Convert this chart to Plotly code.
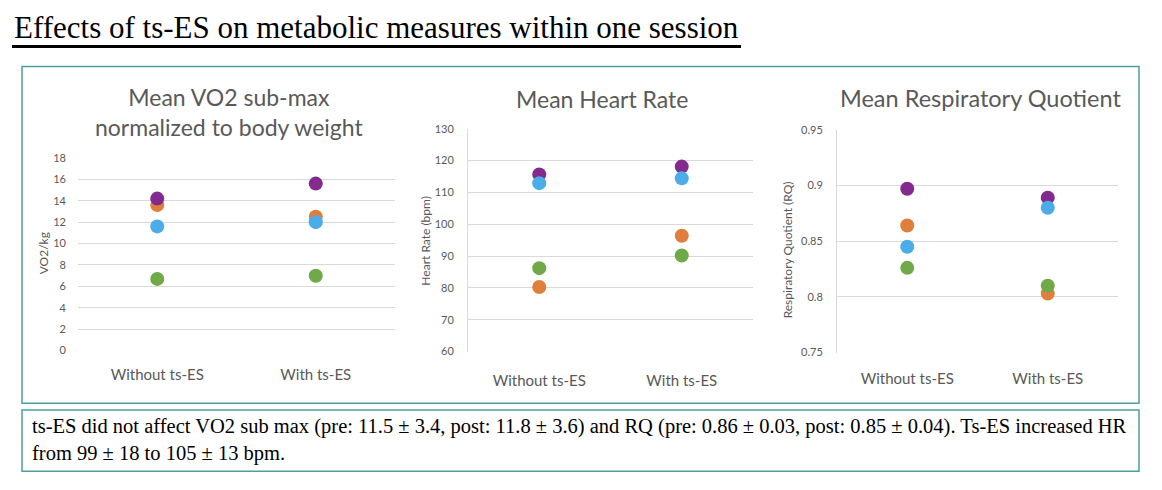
import plotly.graph_objects as go

W, H = 1162, 490

categories = ["Without ts-ES", "With ts-ES"]

# Mean VO2 sub-max normalized to body weight
vo2_orange = [13.6, 12.5]
vo2_green = [6.7, 7.0]
vo2_purple = [14.2, 15.6]
vo2_blue = [11.6, 12.0]

# Mean Heart Rate
hr_orange = [80.3, 96.4]
hr_green = [86.2, 90.2]
hr_purple = [115.6, 118.1]
hr_blue = [112.9, 114.4]

# Mean Respiratory Quotient
rq_orange = [0.864, 0.803]
rq_green = [0.826, 0.810]
rq_purple = [0.897, 0.889]
rq_blue = [0.845, 0.880]

vo2_ticks = [0, 2, 4, 6, 8, 10, 12, 14, 16, 18]
hr_ticks = [60, 70, 80, 90, 100, 110, 120, 130]
rq_ticks = [0.75, 0.8, 0.85, 0.9, 0.95]
rq_ticktext = ["0.75", "0.8", "0.85", "0.9", "0.95"]

colors = {"orange": "#E07F3C", "green": "#70A948", "purple": "#842A8E", "blue": "#4AADE9"}

GRAY = "#595959"
GRID = "#D9D9D9"
TEAL = "#4E9E9E"
FONT = "Lato"


def px(x):
    return x / W


def py(y):
    return 1 - y / H


fig = go.Figure()

panels = [
    ("x", "y", [vo2_orange, vo2_green, vo2_purple, vo2_blue]),
    ("x2", "y2", [hr_orange, hr_green, hr_purple, hr_blue]),
    ("x3", "y3", [rq_orange, rq_green, rq_purple, rq_blue]),
]
names = ["orange", "green", "purple", "blue"]
for xa, ya, series in panels:
    for nm, vals in zip(names, series):
        fig.add_trace(go.Scatter(
            x=categories, y=vals, xaxis=xa, yaxis=ya, mode="markers",
            marker=dict(size=14, color=colors[nm]), showlegend=False,
            hoverinfo="x+y"))

xcommon = dict(type="category", range=[-0.5, 1.5], showgrid=False, showline=False,
               zeroline=False, ticks="", tickfont=dict(family=FONT, size=15, color=GRAY),
               fixedrange=True)
ycommon = dict(showgrid=True, gridcolor=GRID, gridwidth=1, zeroline=False, ticks="",
               tickfont=dict(family=FONT, size=11, color=GRAY), ticklabelstandoff=11,
               fixedrange=True)

fig.update_layout(
    width=W, height=H, margin=dict(l=0, r=0, t=0, b=0),
    paper_bgcolor="white", plot_bgcolor="white",
    xaxis=dict(domain=[px(78), px(395)], anchor="y", ticklabelstandoff=13, **xcommon),
    yaxis=dict(domain=[py(353), py(155)], anchor="x", range=[0, 18], tickvals=vo2_ticks,
               showline=False, **ycommon),
    xaxis2=dict(domain=[px(468), px(753)], anchor="y2", ticklabelstandoff=18, **xcommon),
    yaxis2=dict(domain=[py(354), py(125)], anchor="x2", range=[60, 130], tickvals=hr_ticks,
                showline=True, linecolor=GRID, linewidth=1, **ycommon),
    xaxis3=dict(domain=[px(837), px(1118)], anchor="y3", ticklabelstandoff=15, **xcommon),
    yaxis3=dict(domain=[py(355), py(126)], anchor="x3", range=[0.75, 0.95], tickvals=rq_ticks,
                ticktext=rq_ticktext, showline=True, linecolor=GRID, linewidth=1, **ycommon),
)

annotations = []
# Main heading
annotations.append(dict(text="Effects of ts-ES on metabolic measures within one session",
                        x=px(12), y=py(34), xref="paper", yref="paper", xanchor="left",
                        yanchor="bottom", yshift=-7, showarrow=False,
                        font=dict(family="Liberation Serif", size=31, color="black")))
# Panel titles
annotations.append(dict(text="Mean VO2 sub-max<br>normalized to body weight", x=px(229), y=py(108),
                        xref="paper", yref="paper", xanchor="center", yanchor="middle",
                        showarrow=False, align="center",
                        font=dict(family=FONT, size=23, color=GRAY)))
annotations.append(dict(text="Mean Heart Rate", x=px(602), y=py(95), xref="paper", yref="paper",
                        xanchor="center", yanchor="middle",
                        showarrow=False, font=dict(family=FONT, size=23, color=GRAY)))
annotations.append(dict(text="Mean Respiratory Quotient", x=px(980), y=py(93), xref="paper",
                        yref="paper", xanchor="center", yanchor="middle",
                        showarrow=False, font=dict(family=FONT, size=23.5, color=GRAY)))
# Y axis labels
for txt, xx, yy in [("VO2/kg", 43, 253), ("Heart Rate (bpm)", 426, 240),
                    ("Respiratory Quotient (RQ)", 787, 250)]:
    annotations.append(dict(text=txt, x=px(xx), y=py(yy), xref="paper", yref="paper",
                            xanchor="center", yanchor="middle",
                            showarrow=False, textangle=-90,
                            font=dict(family=FONT, size=12, color=GRAY)))
# Summary text
annotations.append(dict(
    text="ts-ES did not affect VO2 sub max (pre: 11.5 ± 3.4, post: 11.8 ± 3.6) and RQ (pre: 0.86 ± 0.03, post: 0.85 ± 0.04). Ts-ES increased HR<br>from 99 ± 18 to 105 ± 13 bpm.",
    x=px(30), y=py(445), xref="paper", yref="paper", xanchor="left", yanchor="middle",
    align="left", showarrow=False,
    font=dict(family="Liberation Serif", size=20.5, color="black")))

fig.update_layout(annotations=annotations)

shapes = [
    dict(type="rect", xref="paper", yref="paper", x0=px(22), x1=px(1139), y0=py(407), y1=py(61),
         line=dict(color=TEAL, width=1.5), fillcolor="rgba(0,0,0,0)", layer="below"),
    dict(type="rect", xref="paper", yref="paper", x0=px(22), x1=px(1139), y0=py(477), y1=py(414),
         line=dict(color=TEAL, width=1.5), fillcolor="rgba(0,0,0,0)", layer="below"),
    dict(type="line", xref="paper", yref="paper", x0=px(12), x1=px(741), y0=py(40.5), y1=py(40.5),
         line=dict(color="black", width=3)),
]
fig.update_layout(shapes=shapes)

# Remove the default page margin so the 1162x490 figure fills the window exactly.
fig.write_html("out.html", config={"displayModeBar": False},
               post_script="document.body.style.margin='0';document.body.style.overflow='hidden';")
